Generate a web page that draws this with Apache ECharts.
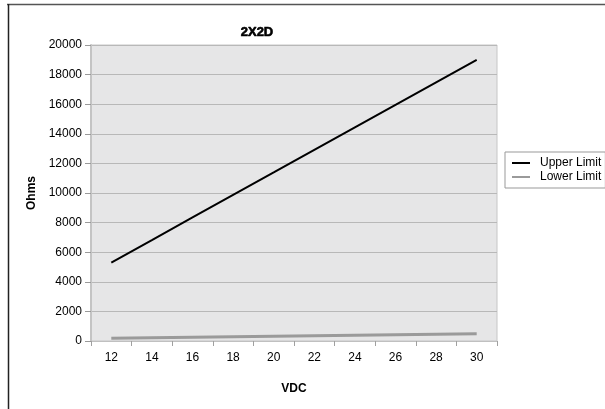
<!DOCTYPE html>
<html>
<head>
<meta charset="utf-8">
<script src="https://cdn.jsdelivr.net/npm/echarts@6/dist/echarts.min.js"></script>
<style>
  html, body { margin: 0; padding: 0; background: #fff; }
  #chart { width: 605px; height: 409px; }
</style>
</head>
<body>
<div id="chart"></div>
<script>
// Supply voltage steps (VDC)
const voltages = ['12', '14', '16', '18', '20', '22', '24', '26', '28', '30'];
// Resistance limits in ohms at each voltage
const upperLimit = [5300, 6820, 8350, 9870, 11390, 12920, 14440, 15960, 17480, 19000];
const lowerLimit = [180, 215, 250, 285, 320, 355, 390, 425, 460, 495];
// Value axis ticks
const yMin = 0, yMax = 20000, yStep = 2000;

const font = '"Liberation Sans", Arial, sans-serif';
const chart = echarts.init(document.getElementById('chart'), null, { renderer: 'canvas' });

chart.setOption({
  animation: false,
  backgroundColor: '#ffffff',
  title: {
    text: '2X2D',
    left: 252, top: 21,
    textAlign: 'center',
    textStyle: {
      fontFamily: font, fontWeight: 900, fontSize: 13, color: '#000',
      textBorderColor: '#000', textBorderWidth: 0.6
    }
  },
  graphic: [
    { type: 'line', shape: { x1: 7, y1: 4.5, x2: 605, y2: 4.5 }, style: { stroke: '#555', lineWidth: 1.5 } },
    { type: 'line', shape: { x1: 8.5, y1: 4, x2: 8.5, y2: 409 }, style: { stroke: '#222', lineWidth: 1.5 } }
  ],
  legend: {
    orient: 'vertical',
    left: 505, top: 152,
    padding: [5, 4, 5, 7],
    itemGap: 2,
    itemWidth: 18, itemHeight: 13,
    borderColor: '#999', borderWidth: 1,
    textStyle: { fontFamily: font, fontSize: 12, color: '#000', padding: [0, 0, 0, 5] },
    data: [
      { name: 'Upper Limit', icon: 'path://M0,6 L18,6 L18,8 L0,8 Z' },
      { name: 'Lower Limit', icon: 'path://M0,6 L18,6 L18,8 L0,8 Z' }
    ]
  },
  grid: {
    left: 91, top: 45, right: 108, bottom: 68,
    show: true, backgroundColor: '#e6e6e7', borderColor: '#c6c6c6', borderWidth: 1
  },
  xAxis: {
    type: 'category',
    data: voltages,
    boundaryGap: true,
    name: 'VDC',
    nameLocation: 'middle',
    nameGap: 42,
    nameTextStyle: { fontFamily: font, fontWeight: 'bold', fontSize: 12, color: '#000' },
    axisLine: { lineStyle: { color: '#c0c0c0', width: 1 } },
    axisTick: { show: true, length: 5, lineStyle: { color: '#a0a0a0' }, interval: 0 },
    axisLabel: { fontFamily: font, fontSize: 12, color: '#000', margin: 11 }
  },
  yAxis: {
    type: 'value',
    min: yMin, max: yMax, interval: yStep,
    name: 'Ohms',
    nameLocation: 'middle',
    nameGap: 53,
    nameTextStyle: { fontFamily: font, fontWeight: 'bold', fontSize: 12, color: '#000' },
    axisLine: { show: true, lineStyle: { color: '#c4c4c4', width: 2 } },
    axisTick: { show: true, length: 6, lineStyle: { color: '#999' } },
    axisLabel: { fontFamily: font, fontSize: 12, color: '#000', margin: 9, formatter: v => String(v) },
    splitLine: { lineStyle: { color: '#b8b8b8', width: 1 } }
  },
  series: [
    {
      name: 'Upper Limit', type: 'line', data: upperLimit,
      symbol: 'none', color: '#000',
      lineStyle: { color: '#000', width: 2 }
    },
    {
      name: 'Lower Limit', type: 'line', data: lowerLimit,
      symbol: 'none', color: '#9a9a9a',
      lineStyle: { color: '#9a9a9a', width: 3 }
    }
  ]
});
</script>
</body>
</html>
